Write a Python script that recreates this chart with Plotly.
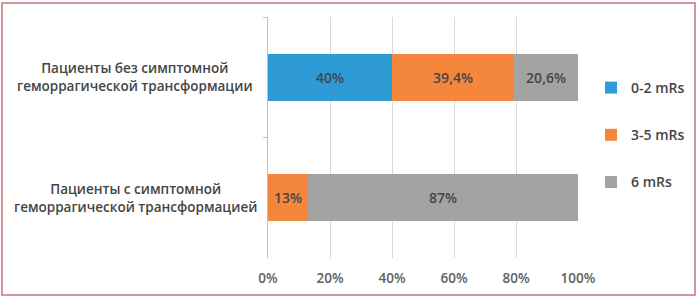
import plotly.graph_objects as go

categories = ["Пациенты без симптомной<br>геморрагической трансформации",
              "Пациенты с симптомной<br>геморрагической трансформацией"]
series_names = ["0-2 mRs", "3-5 mRs", "6 mRs"]
values_02 = [40, 0]
values_35 = [39.4, 13]
values_6 = [20.6, 87]
colors = ["#2e9bd6", "#f5873d", "#a3a3a3"]
tick_vals = [0, 20, 40, 60, 80, 100]
tick_text = ["0%", "20%", "40%", "60%", "80%", "100%"]

W, H = 700, 298
L, R, T, B = 268, 122, 17, 40
pw, ph = W - L - R, H - T - B

def fmt(v):
    if v == 0:
        return ""
    s = ("%g" % v).replace(".", ",")
    return s + "%"

fig = go.Figure()
for i, (name, vals) in enumerate(zip(series_names, [values_02, values_35, values_6])):
    fig.add_trace(go.Bar(
        y=categories, x=vals, name=name, orientation="h",
        marker=dict(color=colors[i], line=dict(width=0)),
        text=[fmt(v) for v in vals], textposition="inside",
        insidetextanchor="middle",
        textfont=dict(family="Open Sans", size=14, color="#454545", weight=600),
        legendgroup=name,
        hoverinfo="skip",
    ))

for c in categories:
    fig.add_annotation(
        x=(135 - L) / pw, xref="paper", y=c, yref="y",
        text=c, showarrow=False, align="center", xanchor="center",
        font=dict(family="Open Sans", size=13.5, color="#454545", weight=600),
    )

# frame
fig.add_shape(type="rect", xref="paper", yref="paper",
              x0=(2 - L) / pw, x1=(695 - L) / pw,
              y0=(T + ph - 295) / ph, y1=(T + ph - 3) / ph,
              line=dict(color="#c8747b", width=1.5), fillcolor="rgba(0,0,0,0)", layer="below")

fig.update_layout(
    width=W, height=H,
    margin=dict(l=L, r=R, t=T, b=B, autoexpand=False),
    barmode="stack", bargap=0.61,
    plot_bgcolor="white", paper_bgcolor="white",
    showlegend=True,
    legend=dict(x=(591 - L) / pw, xanchor="left", y=(T + ph - 72) / ph, yanchor="top",
                traceorder="grouped", tracegroupgap=26,
                font=dict(family="Open Sans", size=14, color="#454545", weight=600),
                itemwidth=30, bgcolor="rgba(0,0,0,0)"),
    xaxis=dict(range=[0, 100], tickvals=tick_vals, ticktext=tick_text,
               showgrid=True, gridcolor="#d9d9d9", gridwidth=1,
               zeroline=False, showline=False, ticks="", ticklabelstandoff=10,
               tickfont=dict(family="Open Sans", size=13.5, color="#606060", weight=600)),
    yaxis=dict(autorange="reversed", showticklabels=False,
               showline=True, linecolor="#bfbfbf", linewidth=1,
               ticks="outside", ticklen=4, tickcolor="#bfbfbf",
               tickson="boundaries", showgrid=False),
)

fig.write_html("out.html")
